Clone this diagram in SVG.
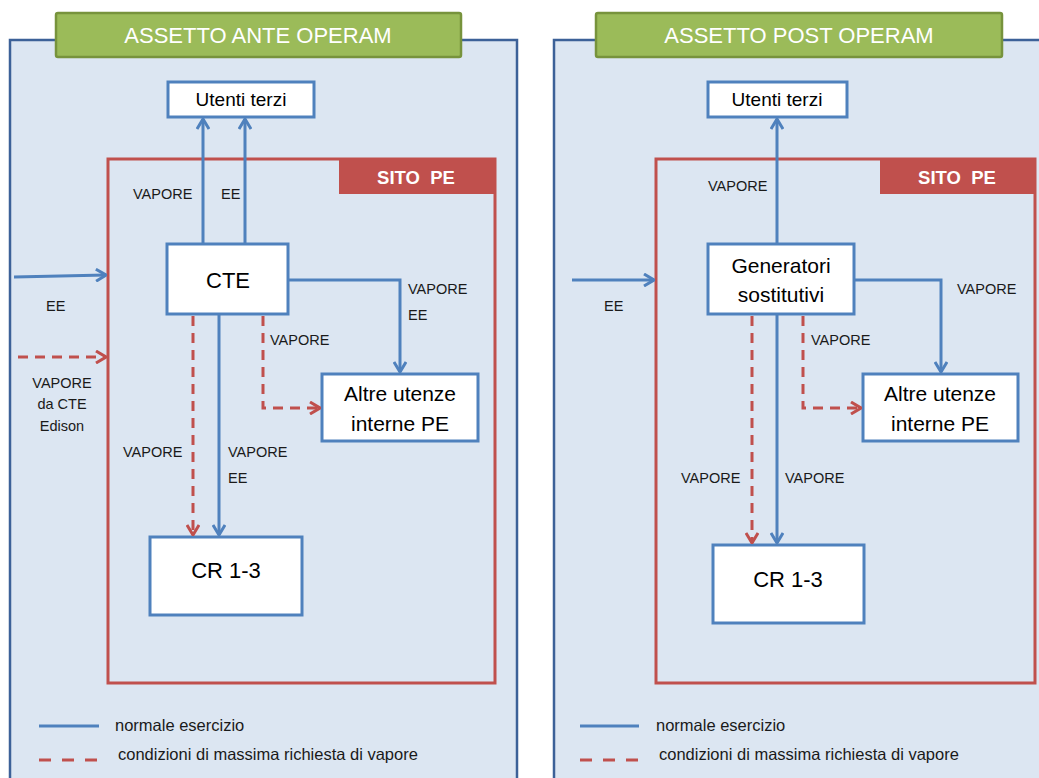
<svg xmlns="http://www.w3.org/2000/svg" width="1039" height="778" viewBox="0 0 1039 778">
<style>
.panel{fill:#dce6f2;stroke:#3c6198;stroke-width:2.5}
.title{fill:#9bbb59;stroke:#77933c;stroke-width:2.5}
.ttl{font-family:"Liberation Sans",Arial,sans-serif;font-size:22px;fill:#fff;text-anchor:middle}
.site{fill:none;stroke:#c0504d;stroke-width:3}
.sitelbl{fill:#c0504d}
.stl{font-family:"Liberation Sans",Arial,sans-serif;font-size:18.5px;font-weight:bold;fill:#fff;text-anchor:middle}
.node{fill:#fff;stroke:#4f81bd;stroke-width:3}
.nt{font-family:"Liberation Sans",Arial,sans-serif;font-size:21px;fill:#000;text-anchor:middle}
.nts{font-family:"Liberation Sans",Arial,sans-serif;font-size:19px;fill:#000;text-anchor:middle}
.lbl{font-family:"Liberation Sans",Arial,sans-serif;font-size:14.5px;fill:#1a1a1a}
.leg{font-family:"Liberation Sans",Arial,sans-serif;font-size:16.5px;fill:#1a1a1a}
.blue{fill:none;stroke:#4f81bd;stroke-width:3}
.red{fill:none;stroke:#c0504d;stroke-width:3;stroke-dasharray:10 7}
.redleg{fill:none;stroke:#c0504d;stroke-width:3;stroke-dasharray:12 11}
</style>
<defs>
<marker id="ab" viewBox="0 0 12 14" refX="11" refY="7" markerWidth="12" markerHeight="14" markerUnits="userSpaceOnUse" orient="auto"><path d="M1,1 L11,7 L1,13" fill="none" stroke="#4f81bd" stroke-width="3"/></marker>
<marker id="ar" viewBox="0 0 12 14" refX="11" refY="7" markerWidth="12" markerHeight="14" markerUnits="userSpaceOnUse" orient="auto"><path d="M1,1 L11,7 L1,13" fill="none" stroke="#c0504d" stroke-width="3"/></marker>
</defs>

<!-- LEFT PANEL -->
<g id="panel-ante">
<rect class="panel" x="10" y="40" width="507" height="760"/>
<rect class="title" x="56" y="13" width="405" height="44" rx="2"/>
<text class="ttl" x="258" y="43">ASSETTO ANTE OPERAM</text>
</g>
<g id="site-ante">
<rect class="site" x="108" y="159" width="387" height="524"/>
<rect class="sitelbl" x="339" y="159" width="156" height="35"/>
<text class="stl" x="416" y="184" xml:space="preserve">SITO  PE</text>
</g>
<g id="utenti-ante"><rect class="node" x="168" y="82" width="146" height="35"/><text class="nts" x="241" y="106">Utenti terzi</text></g>
<g id="cte"><rect class="node" x="167" y="244" width="121" height="70"/><text class="nt" x="228" y="288" style="font-size:22px">CTE</text></g>
<g id="altre-ante"><rect class="node" x="322" y="374" width="156" height="67"/><text class="nt" x="400" y="401">Altre utenze</text><text class="nt" x="400" y="431">interne PE</text></g>
<g id="cr-ante"><rect class="node" x="150" y="537" width="152" height="78"/><text class="nt" x="226" y="578" style="font-size:22px">CR 1-3</text></g>

<g id="connectors-ante">
<path class="blue" d="M203,244 V119" marker-end="url(#ab)"/>
<path class="blue" d="M245,244 V119" marker-end="url(#ab)"/>
<path class="blue" d="M288,280 H400 V372" marker-end="url(#ab)"/>
<path class="blue" d="M219,314 V535" marker-end="url(#ab)"/>
<path class="red" d="M193,316 V535" marker-end="url(#ar)"/>
<path class="red" d="M263,316 V408 H320" marker-end="url(#ar)"/>
<path class="blue" d="M14,277 L106,275" marker-end="url(#ab)"/>
<path class="red" d="M18,357 H106" marker-end="url(#ar)"/>
</g>
<g id="labels-ante">
<text class="lbl" x="133" y="199">VAPORE</text>
<text class="lbl" x="221" y="199">EE</text>
<text class="lbl" x="408" y="294">VAPORE</text>
<text class="lbl" x="408" y="320">EE</text>
<text class="lbl" x="270" y="345">VAPORE</text>
<text class="lbl" x="123" y="457">VAPORE</text>
<text class="lbl" x="228" y="457">VAPORE</text>
<text class="lbl" x="228" y="483">EE</text>
<text class="lbl" x="46" y="311">EE</text>
<text class="lbl" x="62" y="388" text-anchor="middle">VAPORE</text>
<text class="lbl" x="62" y="409" text-anchor="middle">da CTE</text>
<text class="lbl" x="62" y="431" text-anchor="middle">Edison</text>
</g>
<g id="legend-ante">
<path class="blue" d="M39,726 H99"/>
<text class="leg" x="115" y="731">normale esercizio</text>
<path class="redleg" d="M39,760 H99"/>
<text class="leg" x="118" y="760">condizioni di massima richiesta di vapore</text>
</g>

<!-- RIGHT PANEL -->
<g id="panel-post">
<rect class="panel" x="554" y="40" width="520" height="760"/>
<rect class="title" x="596" y="13" width="406" height="44" rx="2"/>
<text class="ttl" x="799" y="43">ASSETTO POST OPERAM</text>
</g>
<g id="site-post">
<rect class="site" x="656" y="159" width="379" height="524"/>
<rect class="sitelbl" x="880" y="159" width="155" height="35"/>
<text class="stl" x="957" y="184" xml:space="preserve">SITO  PE</text>
</g>
<g id="utenti-post"><rect class="node" x="708" y="82" width="139" height="35"/><text class="nts" x="777" y="106">Utenti terzi</text></g>
<g id="generatori"><rect class="node" x="708" y="244" width="146" height="70"/><text class="nt" x="781" y="273">Generatori</text><text class="nt" x="781" y="302">sostitutivi</text></g>
<g id="altre-post"><rect class="node" x="863" y="374" width="155" height="67"/><text class="nt" x="940" y="401">Altre utenze</text><text class="nt" x="940" y="431">interne PE</text></g>
<g id="cr-post"><rect class="node" x="713" y="545" width="151" height="78"/><text class="nt" x="788" y="587" style="font-size:22px">CR 1-3</text></g>

<g id="connectors-post">
<path class="blue" d="M777,244 V119" marker-end="url(#ab)"/>
<path class="blue" d="M854,280 H941 V372" marker-end="url(#ab)"/>
<path class="blue" d="M777,314 V543" marker-end="url(#ab)"/>
<path class="red" d="M752,316 V543" marker-end="url(#ar)"/>
<path class="red" d="M803,316 V408 H861" marker-end="url(#ar)"/>
<path class="blue" d="M572,280 H654" marker-end="url(#ab)"/>
</g>
<g id="labels-post">
<text class="lbl" x="708" y="191">VAPORE</text>
<text class="lbl" x="957" y="294">VAPORE</text>
<text class="lbl" x="811" y="345">VAPORE</text>
<text class="lbl" x="681" y="483">VAPORE</text>
<text class="lbl" x="785" y="483">VAPORE</text>
<text class="lbl" x="604" y="311">EE</text>
</g>
<g id="legend-post">
<path class="blue" d="M580,726 H639"/>
<text class="leg" x="656" y="731">normale esercizio</text>
<path class="redleg" d="M580,760 H639"/>
<text class="leg" x="659" y="760">condizioni di massima richiesta di vapore</text>
</g>
</svg>
